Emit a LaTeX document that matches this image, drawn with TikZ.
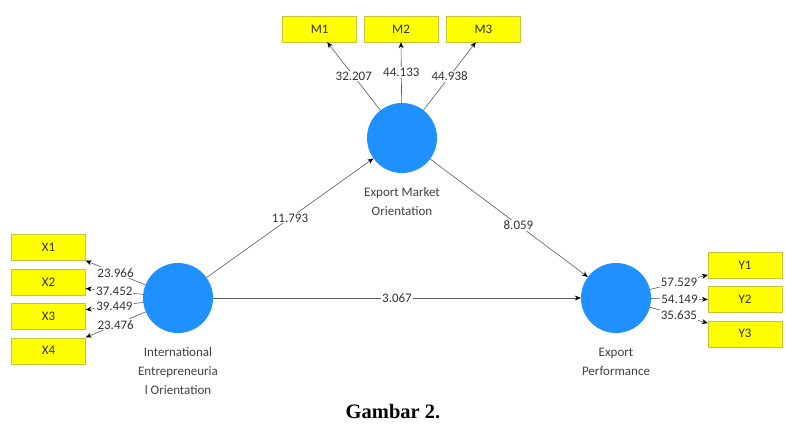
\documentclass[tikz,border=0pt]{standalone}
\usepackage{fontspec}
\setmainfont{Carlito}
\newfontfamily\capfont{Liberation Serif}
\usetikzlibrary{positioning, arrows.meta}
\definecolor{lvblue}{RGB}{30,144,255}
\definecolor{indyellow}{RGB}{255,255,0}
\definecolor{indborder}{RGB}{195,195,60}
\begin{document}
\begin{tikzpicture}
            [x = 1pt, y = 1pt,
             latent/.style = {circle, fill = lvblue, minimum size = 70pt, inner sep = 0pt},
             indicator/.style = {rectangle, draw = indborder, fill = indyellow, minimum width = 74pt, minimum height = 26pt, inner sep = 0pt, font = \fontsize{13}{15}\selectfont, text = black!80},
             coef/.style = {fill = white, inner sep = 1pt, font = \fontsize{13}{15}\selectfont, text = black!80},
             link/.style = {draw = black!65, line width = 0.6pt, -{Stealth[length = 6pt, width = 5pt, black]}},
             lvname/.style = {align = center, font = \fontsize{13}{19}\selectfont, text = black!75, label distance = 11pt}]
            \useasboundingbox (0,0) rectangle (786,423);
            \node[latent] (IEO) at (178,125) [label={[lvname]below:{International\\Entrepreneuria\\l Orientation}}] {};
            \node[latent] (EMO) at (402,285) [label={[lvname]below:{Export Market\\Orientation}}] {};
            \node[latent] (EP) at (616,125) [label={[lvname]below:{Export\\Performance}}] {};
            \node[indicator] (X1) at (48.5,175.5) {X1};
            \node[indicator] (X2) [below = 8pt of X1] {X2};
            \node[indicator] (X3) [below = 8pt of X2] {X3};
            \node[indicator] (X4) [below = 8pt of X3] {X4};
            \node[indicator] (M2) at (401,394) {M2};
            \node[indicator] (M1) [left = 7pt of M2] {M1};
            \node[indicator] (M3) [right = 8pt of M2] {M3};
            \node[indicator] (Y1) at (745,158) {Y1};
            \node[indicator] (Y2) [below = 8pt of Y1] {Y2};
            \node[indicator] (Y3) [below = 8pt of Y2] {Y3};
            \draw[link] (IEO) -- node[coef] {23.966} (X1.south east);
            \draw[link] (IEO) -- node[coef] {37.452} (X2.-10);
            \draw[link] (IEO) -- node[coef] {39.449} (X3.10);
            \draw[link] (IEO) -- node[coef] {23.476} (X4.north east);
            \draw[link] (EMO) -- node[coef] {32.207} (M1.-60);
            \draw[link] (EMO) -- node[coef] {44.133} (M2.south);
            \draw[link] (EMO) -- node[coef] {44.938} (M3.-120);
            \draw[link] (EP) -- node[coef] {57.529} (Y1.195);
            \draw[link] (EP) -- node[coef] {54.149} (Y2.west);
            \draw[link] (EP) -- node[coef] {35.635} (Y3.164);
            \draw[link] (IEO) -- node[coef] {11.793} (EMO);
            \draw[link] (EMO) -- node[coef, pos = 0.56] {8.059} (EP);
            \draw[link] (IEO) -- node[coef] {3.067} (EP);
            \node[font = \capfont\bfseries\fontsize{20.5}{24}\selectfont] (caption) at (393,11) {Gambar 2.};
        \end{tikzpicture}
\end{document}
